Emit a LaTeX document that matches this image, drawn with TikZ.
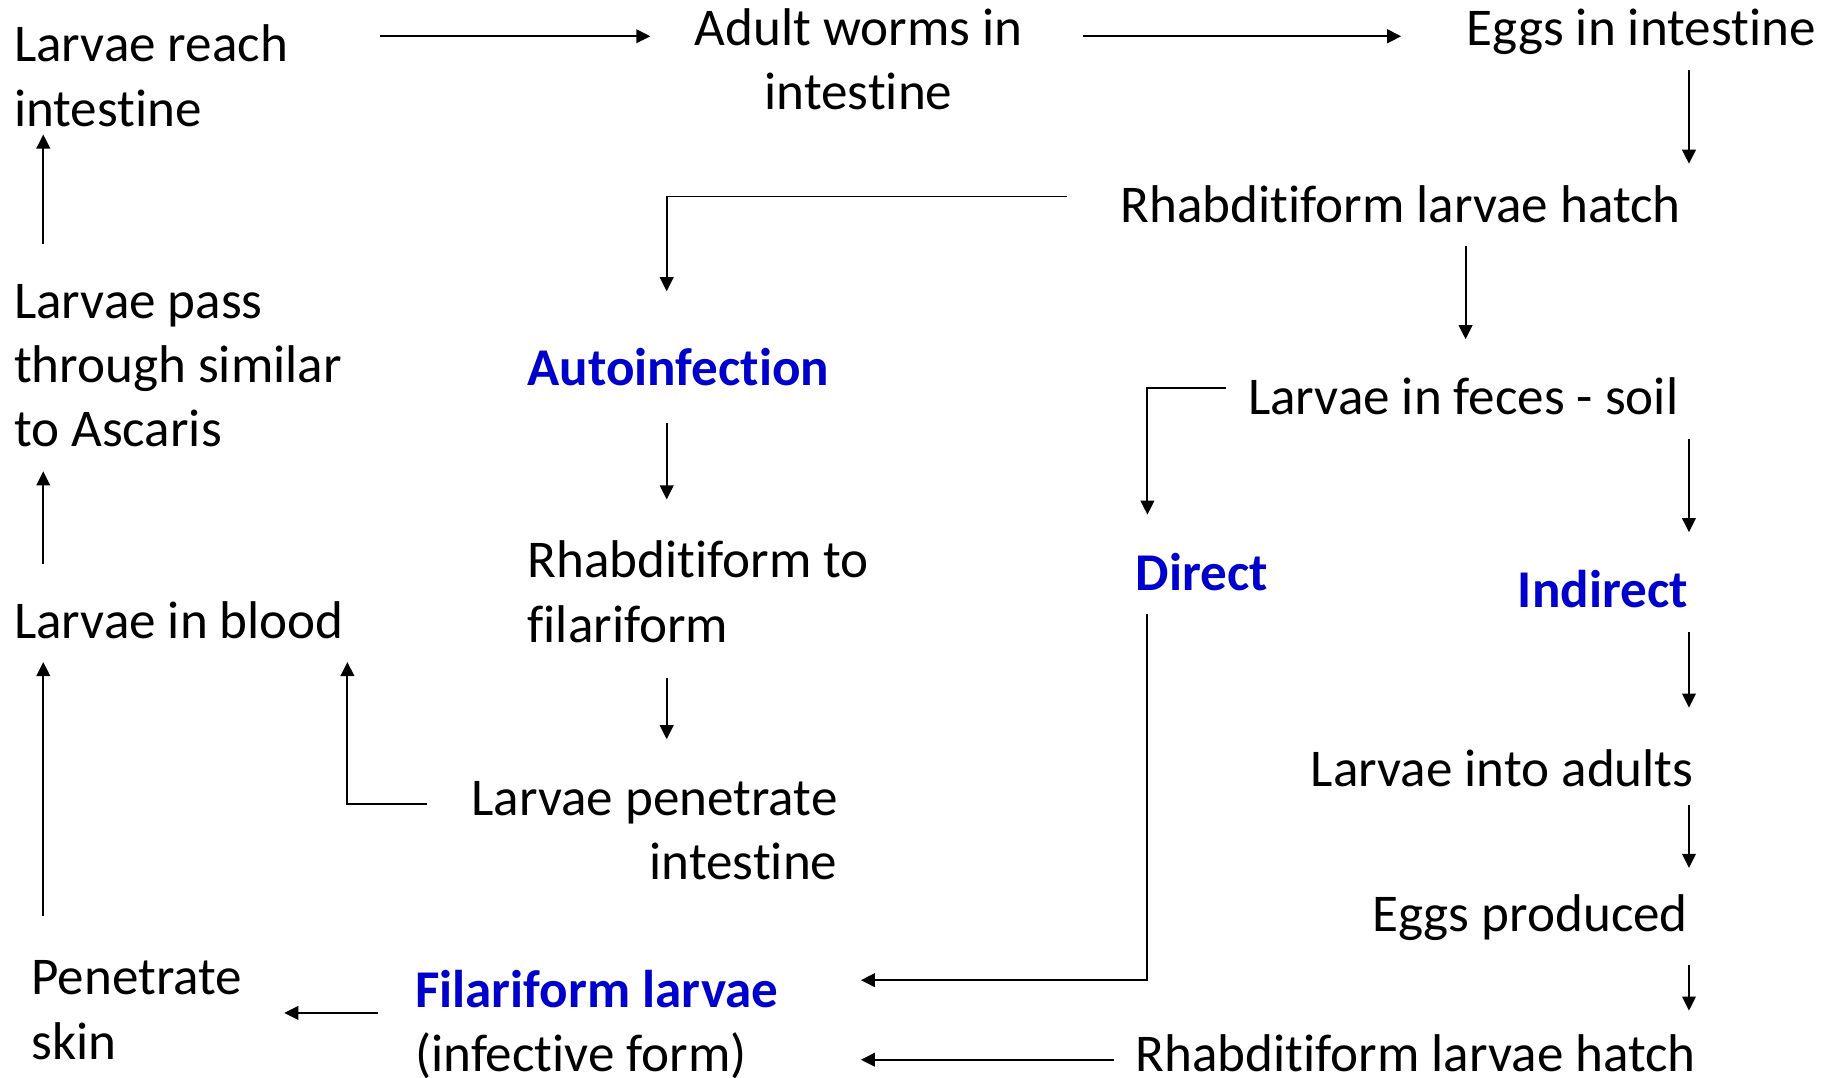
\documentclass[tikz,border=0pt]{standalone}
\usepackage{fontspec}
\setmainfont{Carlito}[Ligatures=NoCommon]
\usepackage{tikz}
\usetikzlibrary{arrows.meta,calc}
\definecolor{stageBlue}{RGB}{0,0,204}
\tikzset{
  cycleText/.style={inner sep=0pt, outer sep=0pt, font=\fontsize{22.7}{27.5}\selectfont, align=left},
  cycleStage/.style={cycleText, font=\fontsize{22.7}{27.5}\selectfont\bfseries, text=stageBlue},
  cycleArrow/.style={-{Triangle[length=6pt,width=5.8pt]}, line width=0.85pt},
  cycleLine/.style={line width=0.85pt}
}
\begin{document}
\begin{tikzpicture}[x=0.5pt, y=-0.5pt]
  \useasboundingbox (0,0) rectangle (1568,921);
  % stages of the cycle (multi-line nodes sit on their last baseline)
  \node[cycleText, anchor=base west] (reach) at (12,108) {Larvae reach\\intestine};
  \node[cycleText, anchor=base, align=center] (adult) at (734,94) {Adult worms in\\intestine};
  \node[cycleText, anchor=base west] (eggsIn) at (1254,39) {Eggs in intestine};
  \node[cycleText, anchor=base west] (hatchTop) at (958,190) {Rhabditiform larvae hatch};
  \node[cycleStage, anchor=base west] (auto) at (451,330) {Autoinfection};
  \node[cycleText, anchor=base west] (pass) at (12,382) {Larvae pass\\through similar\\to Ascaris};
  \node[cycleText, anchor=base west] (feces) at (1067,354) {Larvae in feces - soil};
  \node[cycleStage, anchor=base west] (direct) at (971,505) {Direct};
  \node[cycleStage, anchor=base east] (indirect) at (1443,519) {Indirect};
  \node[cycleText, anchor=base west] (rhabFil) at (451,549) {Rhabditiform to\\filariform};
  \node[cycleText, anchor=base west] (blood) at (12,546) {Larvae in blood};
  \node[cycleText, anchor=base east, align=right] (penetrate) at (716,752) {Larvae penetrate\\intestine};
  \node[cycleText, anchor=base east] (adults) at (1448,672) {Larvae into adults};
  \node[cycleText, anchor=base east] (eggsOut) at (1443,796) {Eggs produced};
  \node[cycleText, anchor=base west] (skin) at (27,905.5) {Penetrate\\skin};
  \node[cycleText, anchor=base west] (filar) at (355,916) {\textcolor{stageBlue}{\textbf{Filariform larvae}}\\(infective form)};
  \node[cycleText, anchor=base west] (hatchLow) at (971,916) {Rhabditiform larvae hatch};
  % connectors
  \draw[cycleArrow] ($(reach.base west)+(313,-77)$) -- ($(adult.base)+(-178,-63)$);
  \draw[cycleArrow] ($(adult.base)+(192,-63)$) -- ($(eggsIn.base west)+(-56,-8)$);
  \draw[cycleArrow] ($(eggsIn.base west)+(190,21)$) -- ($(hatchTop.base west)+(486,-50)$);
  \draw[cycleArrow] ($(hatchTop.base west)+(-46,-22)$) -| ($(auto.base west)+(119,-81)$);
  \draw[cycleArrow] ($(hatchTop.base west)+(295,20)$) -- ($(feces.base west)+(186,-64)$);
  \draw[cycleArrow] ($(feces.base west)+(-19,-22)$) -| ($(direct.base west)+(10,-65)$);
  \draw[cycleArrow] ($(feces.base west)+(377,21)$) -- ($(indirect.base east)+(1,-64)$);
  \draw[cycleArrow] ($(auto.base west)+(119,32)$) -- ($(rhabFil.base west)+(119,-122)$);
  \draw[cycleArrow] ($(rhabFil.base west)+(119,31)$) -- ($(penetrate.base east)+(-146,-120)$);
  \draw[cycleArrow] ($(penetrate.base east)+(-351,-65)$) -| ($(blood.base west)+(285,20)$);
  \draw[cycleArrow] ($(indirect.base east)+(1,21)$) -- ($(adults.base east)+(-4,-67)$);
  \draw[cycleArrow] ($(adults.base east)+(-4,16)$) -- ($(eggsOut.base east)+(1,-54)$);
  \draw[cycleArrow] ($(eggsOut.base east)+(1,29)$) -- ($(hatchLow.base west)+(473,-52)$);
  \draw[cycleArrow] ($(direct.base west)+(10,20)$) |- ($(filar.base west)+(381,-78)$);
  \draw[cycleArrow] ($(hatchLow.base west)+(-19,-10)$) -- ($(filar.base west)+(381,-10)$);
  \draw[cycleArrow] ($(filar.base west)+(-32,-50)$) -- ($(skin.base west)+(216,-39.5)$);
  \draw[cycleArrow] ($(skin.base west)+(10,-122.5)$) -- ($(blood.base west)+(25,20)$);
  \draw[cycleArrow] ($(blood.base west)+(25,-64)$) -- ($(pass.base west)+(25,21)$);
  \draw[cycleArrow] ($(pass.base west)+(25,-173)$) -- ($(reach.base west)+(25,7)$);
\end{tikzpicture}
\end{document}
